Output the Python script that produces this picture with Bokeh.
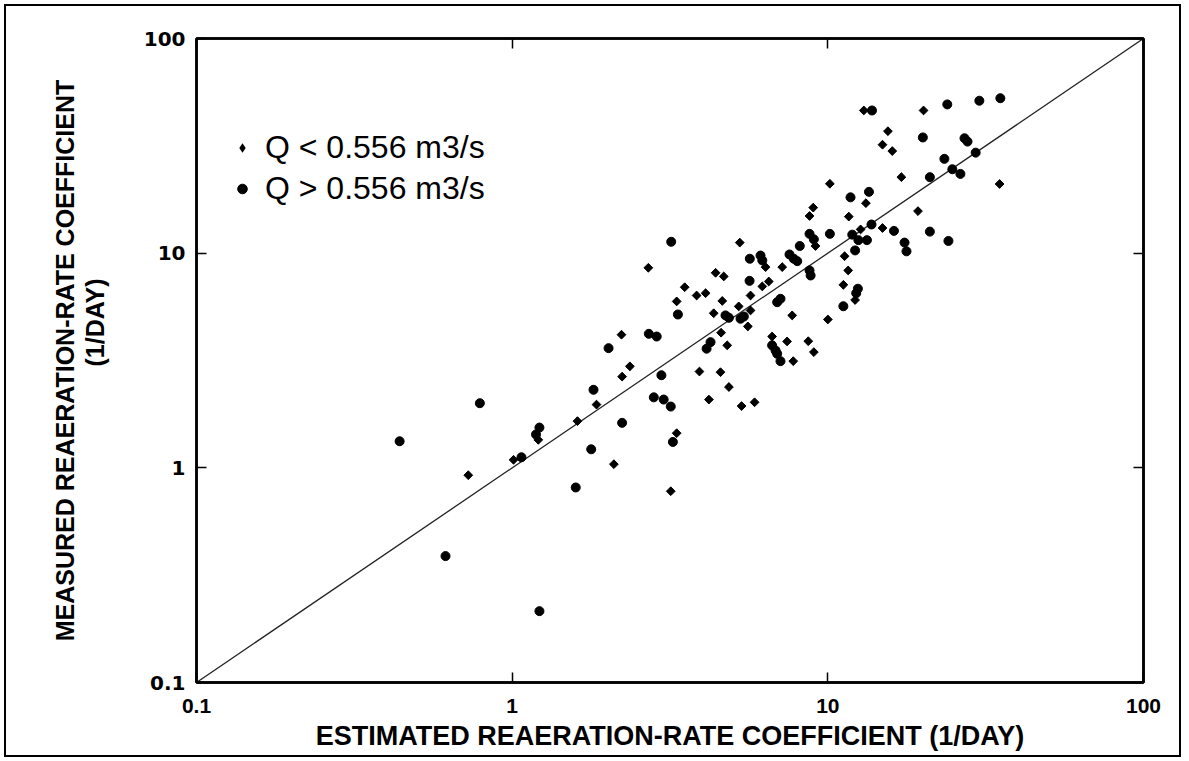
from bokeh.plotting import figure
from bokeh.models import LogAxis, FixedTicker, Legend, LegendItem, Range1d, Title
from bokeh.embed import file_html
from bokeh.resources import INLINE

# Q < 0.556 m3/s (diamonds)
low_x = [0.726, 1.01, 1.21, 1.61, 1.85, 2.10, 2.22, 2.23, 2.36, 2.70,
         3.18, 3.32, 3.32, 3.52, 3.84, 4.10, 3.92, 4.20, 4.35, 4.41,
         4.57, 4.59, 4.63, 4.68, 4.80, 4.86, 5.22, 5.26, 5.33, 5.58,
         5.69, 5.69, 5.86, 6.35, 6.20, 6.50, 6.66, 7.17, 7.43, 7.71,
         7.77, 8.67, 9.03, 8.75, 8.99, 9.14, 10.0, 10.15, 11.2, 11.3,
         11.6, 11.65, 12.2, 12.7, 13.0, 13.2, 14.9, 14.9, 15.5, 16.0,
         17.1, 19.3, 20.1, 35.0]
low_y = [0.924, 1.09, 1.35, 1.65, 1.97, 1.04, 4.17, 2.66, 2.97, 8.55,
         0.778, 1.45, 5.96, 6.94, 6.35, 6.51, 2.81, 2.08, 5.25, 8.1,
         2.79, 4.26, 5.99, 7.79, 3.72, 2.38, 5.65, 11.2, 1.94, 4.56,
         5.41, 6.35, 2.02, 8.61, 7.0, 7.38, 4.09, 8.61, 3.88, 5.13,
         3.14, 3.89, 3.46, 14.9, 16.3, 10.8, 4.91, 21.05, 7.12, 9.68,
         8.31, 14.8, 6.05, 12.9, 46.2, 17.1, 32.0, 13.1, 37.0, 29.9,
         22.6, 15.7, 46.2, 21.0]

# Q > 0.556 m3/s (circles)
high_x = [0.44, 0.615, 0.79, 1.07, 1.22, 1.19, 1.22, 1.59, 1.78, 1.81,
          2.02, 2.23, 2.71, 2.87, 2.97, 2.81, 3.02, 3.18, 3.23, 3.19,
          3.35, 4.25, 4.13, 4.74, 4.86, 5.29, 5.42, 5.66, 5.65, 6.12,
          6.20, 6.91, 7.08, 6.66, 6.83, 6.91, 7.08, 7.56, 7.80, 8.0,
          8.15, 8.75, 9.03, 8.75, 8.82, 10.15, 11.2, 11.8, 13.5, 13.75,
          11.95, 12.5, 13.3, 12.2, 12.45, 12.3, 13.8, 16.2, 17.5, 17.75,
          20.0, 21.05, 21.05, 23.4, 23.9, 24.1, 24.8, 26.3, 27.1, 27.7,
          29.4, 30.2, 35.2]
high_y = [1.33, 0.388, 2.0, 1.12, 1.54, 1.43, 0.215, 0.81, 1.22, 2.31,
          3.61, 1.62, 4.21, 4.09, 2.70, 2.13, 2.08, 1.93, 1.32, 11.3,
          5.18, 3.85, 3.59, 5.13, 5.0, 4.95, 5.07, 9.42, 7.43, 9.75,
          9.25, 5.91, 6.13, 3.72, 3.52, 3.40, 3.14, 9.86, 9.42, 9.18,
          10.8, 12.3, 11.6, 8.31, 7.87, 12.3, 5.66, 18.2, 19.3, 13.6,
          12.2, 11.5, 11.5, 10.3, 6.83, 6.51, 46.2, 12.7, 11.2, 10.2,
          34.6, 22.6, 12.6, 27.5, 49.3, 11.4, 24.6, 23.4, 34.3, 33.1,
          29.4, 51.3, 52.7]

one_to_one = [0.1, 100]
tick_values = [0.1, 1, 10, 100]
tick_labels = ["0.1", "1", "10", "100"]
legend_labels = ["Q < 0.556 m3/s", "Q > 0.556 m3/s"]
x_title = "ESTIMATED REAERATION-RATE COEFFICIENT (1/DAY)"
y_title_1 = "MEASURED REAERATION-RATE COEFFICIENT"
y_title_2 = "(1/DAY)"

# canvas sits inside a 4px margin + 2px page border
p = figure(width=1177, height=753, x_axis_type="log", y_axis_type="log",
           x_range=Range1d(0.1, 100), y_range=Range1d(0.1, 100),
           output_backend="svg", toolbar_location=None,
           min_border_left=190, min_border_right=40,
           min_border_top=32, min_border_bottom=77)
p.margin = (4, 4, 0, 4)
p.styles = {"border": "2px solid black"}

p.xgrid.visible = False
p.ygrid.visible = False
p.outline_line_color = "black"
p.outline_line_width = 2.5
p.background_fill_color = "white"
p.border_fill_color = "white"

p.line(one_to_one, one_to_one, line_color="#222222", line_width=1.3)
# upright diamond glyph for the key, hidden under the rotated squares
r_low_key = p.scatter(low_x, low_y, marker="diamond", size=8.6,
                      fill_color="black", line_color=None)
r_low = p.scatter(low_x, low_y, marker="square", angle=0.785398, size=6.2,
                  fill_color="black", line_color="black")
r_high = p.scatter(high_x, high_y, marker="circle", size=9,
                   fill_color="black", line_color="black")

overrides = {v: t for v, t in zip(tick_values, tick_labels)}
blank = {v: "" for v in tick_values}

def style_axis(ax, labels):
    ax.ticker = FixedTicker(ticks=tick_values)
    ax.minor_tick_line_color = None
    ax.major_tick_in = 10
    ax.major_tick_out = 0
    ax.major_tick_line_color = "black"
    ax.major_tick_line_width = 1.5
    ax.axis_line_color = "black"
    ax.axis_line_width = 2.5
    ax.major_label_overrides = labels
    ax.major_label_text_color = "black"

xa = p.xaxis[0]
ya = p.yaxis[0]
style_axis(xa, overrides)
style_axis(ya, overrides)

xa.major_label_text_font = "Liberation Sans"
xa.major_label_text_font_style = "bold"
xa.major_label_text_font_size = "21px"
xa.major_label_standoff = 16
xa.axis_label = x_title
xa.axis_label_text_color = "black"
xa.axis_label_text_font = "Liberation Sans"
xa.axis_label_text_font_style = "bold"
xa.axis_label_text_font_size = "27px"
xa.axis_label_standoff = 5

ya.major_label_text_font = "DejaVu Sans"
ya.major_label_text_font_style = "bold"
ya.major_label_text_font_size = "20px"
ya.major_label_standoff = 11
# thin spacer between the tick labels and the two title lines
ya.axis_label = " "
ya.axis_label_text_font_size = "1px"
ya.axis_label_standoff = 28

top_ax = LogAxis()
right_ax = LogAxis()
style_axis(top_ax, blank)
style_axis(right_ax, blank)
p.add_layout(top_ax, "above")
p.add_layout(right_ax, "right")

t2 = Title(text=y_title_2, align="right", offset=240, standoff=0,
           text_font="Liberation Sans", text_font_style="bold",
           text_font_size="25px", text_color="black")
t1 = Title(text=y_title_1, align="center", standoff=0,
           text_font="Liberation Sans", text_font_style="bold",
           text_font_size="25px", text_color="black")
p.add_layout(t2, "left")
p.add_layout(t1, "left")

legend = Legend(items=[LegendItem(label=legend_labels[0], renderers=[r_low_key]),
                       LegendItem(label=legend_labels[1], renderers=[r_high])],
                location=(34, 473), orientation="vertical")
legend.border_line_color = None
legend.background_fill_alpha = 0
legend.padding = 0
legend.margin = 0
legend.spacing = 0
legend.glyph_width = 24
legend.glyph_height = 41
legend.label_height = 41
legend.label_standoff = 11
legend.label_text_font = "Liberation Sans"
legend.label_text_font_size = "32px"
legend.label_text_color = "black"
p.add_layout(legend, "center")

open("out.html", "w").write(file_html(p, INLINE))
